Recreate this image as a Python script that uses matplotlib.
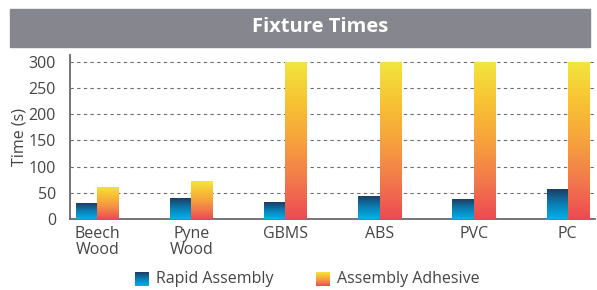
import matplotlib
matplotlib.use("Agg")
import matplotlib.pyplot as plt
from matplotlib.colors import LinearSegmentedColormap
from matplotlib.patches import Rectangle
import numpy as np

plt.rcParams['font.family'] = ['Open Sans', 'DejaVu Sans']

materials = ['Beech\nWood', 'Pyne\nWood', 'GBMS', 'ABS', 'PVC', 'PC']
rapid_assembly = [30, 40, 32, 44, 38, 57]
assembly_adhesive = [62, 72, 300, 300, 300, 300]
series_names = ['Rapid Assembly', 'Assembly Adhesive']

text_col = '#454545'
blue_cmap = LinearSegmentedColormap.from_list('blue', ['#00b2e8', '#0a7fb5', '#1d3c63'])
warm_cmap = LinearSegmentedColormap.from_list('warm', ['#ee4a52', '#f27a4c', '#f7a33c', '#f8c433', '#f2e63e'])
grad = np.linspace(0, 1, 256).reshape(-1, 1)

fig = plt.figure(figsize=(5.97, 2.90), dpi=100)

# title banner
fig.patches.append(Rectangle((10 / 597, 1 - 47 / 290), 580 / 597, 38 / 290,
                             transform=fig.transFigure, color='#86868e', zorder=0))
fig.text(320 / 597, 1 - 27 / 290, 'Fixture Times', ha='center', va='center',
         color='white', fontsize=14.5, fontweight='bold')

ax = fig.add_axes([70 / 597, 71 / 290, 525 / 597, 164 / 290])
x = np.arange(len(materials))
w = 0.225


def gradient_bars(bars, cmap):
    for b in bars:
        x0, y0 = b.get_x(), b.get_y()
        im = ax.imshow(grad, extent=[x0, x0 + b.get_width(), y0, y0 + b.get_height()],
                       origin='lower', aspect='auto', cmap=cmap, zorder=3)
        im.set_clip_path(b)


b1 = ax.bar(x - w / 2, rapid_assembly, w, color='none', edgecolor='none', zorder=3)
b2 = ax.bar(x + w / 2, assembly_adhesive, w, color='none', edgecolor='none', zorder=3)
gradient_bars(b1, blue_cmap)
gradient_bars(b2, warm_cmap)

ax.set_xlim(-0.29, len(materials) - 1 + 0.29)
ax.set_ylim(0, 313)
ax.set_yticks(np.arange(0, 301, 50))
ax.set_xticks(x)
ax.set_xticklabels(materials, linespacing=1.0)
ax.tick_params(length=0, labelsize=11.5, labelcolor=text_col)
ax.tick_params(axis='y', pad=10)
ax.tick_params(axis='x', pad=5)
for yv in range(50, 301, 50):
    ax.axhline(yv, color='#6e6e6e', lw=0.8, ls=(0, (3, 3)), zorder=1)
for s in ['top', 'right']:
    ax.spines[s].set_visible(False)
for s in ['left', 'bottom']:
    ax.spines[s].set_color('#6a6a6a')
    ax.spines[s].set_linewidth(1.3)
ax.set_ylabel('Time (s)', fontsize=11.5, color=text_col, labelpad=1)

# legend with gradient swatches
swatches = [(135, blue_cmap), (316, warm_cmap)]
for (sx, cm), name in zip(swatches, series_names):
    lax = fig.add_axes([sx / 597, 1 - 286 / 290, 14 / 597, 14 / 290])
    lax.imshow(grad, origin='lower', aspect='auto', cmap=cm)
    lax.axis('off')
    fig.text((sx + 21) / 597, 1 - 279 / 290, name, ha='left', va='center',
             fontsize=11.5, color=text_col)

fig.savefig('out.png', dpi=100)
